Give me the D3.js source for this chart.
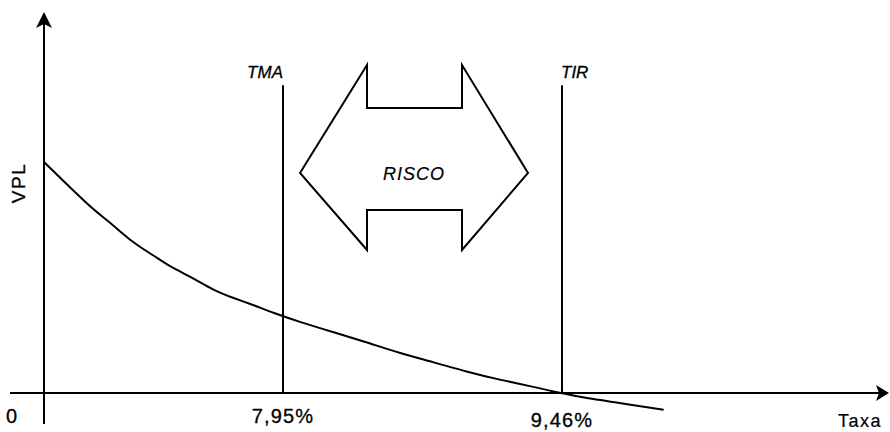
<!DOCTYPE html>
<html>
<head>
<meta charset="utf-8">
<script src="https://cdn.jsdelivr.net/npm/d3@7"></script>
<style>
  html, body { margin: 0; padding: 0; background: #fff; }
  svg { display: block; }
  text { font-family: "Liberation Sans", Arial, sans-serif; fill: #000; }
</style>
</head>
<body>
<svg id="chart" width="890" height="432"></svg>
<script>
// ---- Data ----
const rates = [0, 1.53, 2.20, 2.96, 3.63, 4.19, 4.96, 5.62, 6.29, 6.95, 7.62, 8.04, 8.22, 8.40, 8.58, 8.76, 8.95, 9.13, 9.31, 9.42, 9.46, 9.56, 9.74, 10.01];
const vpl   = [60.8, 48.9, 44.9, 39.5, 36.3, 33.2, 30.3, 27.1, 25.0, 23.2, 21.1, 18.7, 16.05, 13.4, 10.5, 8.2, 5.5, 3.4, 1.6, 0.3, 0, -1.05, -2.4, -4.4];
const markerNames = ["TMA", "TIR"];
const markerRates = [7.95, 9.46];
const tickValues = [0, 7.95, 9.46];
const tickLabels = ["0", "7,95%", "9,46%"];
const xTitle = "Taxa";
const yTitle = "VPL";
const arrowLabel = "RISCO";

// ---- Layout ----
const W = 890, H = 432;
const x0 = 44, y0 = 393;
const svg = d3.select("#chart");

// schematic (piecewise) rate scale
const x = d3.scaleLinear().domain([0, 7.95, 9.46]).range([x0, 283, 562]);
const y = d3.scaleLinear().domain([0, 100]).range([y0, 13]);

const ink = "#000";

// X axis line with arrow
svg.append("line").attr("x1", 10).attr("x2", W - 8).attr("y1", y0).attr("y2", y0)
  .attr("stroke", ink).attr("stroke-width", 2);
svg.append("path")
  .attr("d", `M${W-1},${y0} L${W-14},${y0-8} L${W-11},${y0} L${W-14},${y0+8} Z`)
  .attr("fill", ink);

// Y axis line with arrow
svg.append("line").attr("x1", x0).attr("x2", x0).attr("y1", 424).attr("y2", 22)
  .attr("stroke", ink).attr("stroke-width", 2);
svg.append("path")
  .attr("d", `M${x0},12 L${x0-8},28 L${x0},24 L${x0+8},28 Z`)
  .attr("fill", ink);

// Tick labels
const tickY = [423, 423, 427];
svg.selectAll("text.tick").data(tickValues).join("text")
  .attr("class", "tick")
  .attr("x", (d, i) => i === 0 ? 6 : x(d))
  .attr("y", (d, i) => tickY[i])
  .attr("text-anchor", (d, i) => i === 0 ? "start" : "middle")
  .attr("font-size", 20)
  .attr("letter-spacing", 1.2)
  .attr("stroke", ink).attr("stroke-width", 0.3)
  .text((d, i) => tickLabels[i]);

// Axis titles
svg.append("text").attr("x", 838).attr("y", 427).attr("font-size", 18)
  .attr("letter-spacing", 1.5).attr("stroke", ink).attr("stroke-width", 0.2).text(xTitle);
svg.append("text").attr("transform", "translate(25,183) rotate(-90)")
  .attr("text-anchor", "middle").attr("font-size", 19).attr("letter-spacing", 1.5)
  .attr("stroke", ink).attr("stroke-width", 0.3)
  .text(yTitle);

// Marker lines (TMA, TIR)
const markerTop = 81;
svg.selectAll("line.marker").data(markerRates).join("line")
  .attr("class", "marker")
  .attr("x1", d => x(d)).attr("x2", d => x(d))
  .attr("y1", y(0)).attr("y2", y(markerTop))
  .attr("stroke", ink).attr("stroke-width", 2);
svg.selectAll("text.marker").data(markerRates).join("text")
  .attr("class", "marker")
  .attr("x", (d, i) => i === 0 ? x(d) : x(d) - 1)
  .attr("y", 78)
  .attr("text-anchor", (d, i) => i === 0 ? "end" : "start")
  .attr("font-size", 17).attr("font-style", "italic")
  .attr("stroke", ink).attr("stroke-width", 0.3)
  .text((d, i) => markerNames[i]);

// VPL curve
const pts = rates.map((r, i) => [r, vpl[i]]);
svg.append("path").datum(pts)
  .attr("d", d3.line().x(d => x(d[0])).y(d => y(d[1])).curve(d3.curveBasis))
  .attr("fill", "none").attr("stroke", ink).attr("stroke-width", 2);

// Double-headed "RISCO" arrow between TMA and TIR
const aL = x(7.95) + 17, aR = x(9.46) - 34;
const aMid = 173, aTop = 65, aBot = 250, sTop = 108, sBot = 210;
const nL = aL + 67, nR = aR - 66;
svg.append("path")
  .attr("d", `M${aL},${aMid} L${nL},${aTop} L${nL},${sTop} L${nR},${sTop} L${nR},${aTop} L${aR},${aMid} L${nR},${aBot} L${nR},${sBot} L${nL},${sBot} L${nL},${aBot} Z`)
  .attr("fill", "#fff").attr("stroke", ink).attr("stroke-width", 2)
  .attr("stroke-linejoin", "miter");
svg.append("text").attr("x", (aL + aR) / 2).attr("y", aMid + 7)
  .attr("text-anchor", "middle").attr("font-size", 18).attr("font-style", "italic")
  .attr("letter-spacing", 1).attr("stroke", ink).attr("stroke-width", 0.2)
  .text(arrowLabel);
</script>
</body>
</html>
